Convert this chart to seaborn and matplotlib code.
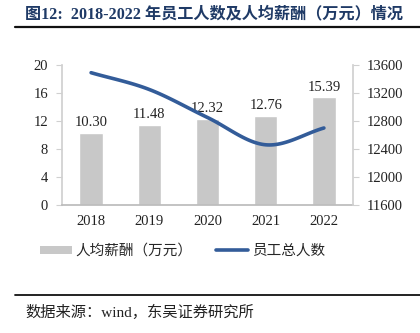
import numpy as np
import pandas as pd
import matplotlib
matplotlib.use("Agg")
import matplotlib.pyplot as plt
import seaborn as sns
from matplotlib.lines import Line2D
from matplotlib.patches import Patch

years = ["2018", "2019", "2020", "2021", "2022"]
salary = [10.30, 11.48, 12.32, 12.76, 15.39]          # 人均薪酬（万元）
headcount = [13490, 13250, 12850, 12460, 12700]       # 员工总人数
left_ticks = [0, 4, 8, 12, 16, 20]
right_ticks = [11600, 12000, 12400, 12800, 13200, 13600]

sns.set_theme(style="white")
CJK = ["Liberation Serif", "Noto Sans CJK SC"]
plt.rcParams["font.family"] = CJK

BAR = "#C8C8C8"
LINE = "#335C99"
SPINE = "#D0D0D0"

fig = plt.figure(figsize=(4.2, 3.33), dpi=100)
ax = fig.add_axes([62 / 420, 1 - 205 / 333, (353 - 62) / 420, 140 / 333])

df = pd.DataFrame({"year": years, "salary": salary})
sns.barplot(data=df, x="year", y="salary", color=BAR, width=0.4,
            saturation=1, ax=ax)
ax.set_ylim(0, 20)
ax.set_yticks(left_ticks)
ax.set_xlim(-0.5, len(years) - 0.5)
ax.set_xlabel("")
ax.set_ylabel("")
for i, v in enumerate(salary):
    ax.text(i, v + 0.5, f"{v:.2f}", ha="center", va="bottom",
            fontsize=10.5, color="#222222")

ax2 = ax.twinx()
# Smooth curve through the yearly points (Catmull-Rom style)
x = np.arange(len(years), dtype=float)
y = np.array(headcount, dtype=float)
px = np.concatenate([[2 * x[0] - x[1]], x, [2 * x[-1] - x[-2]]])
py = np.concatenate([[2 * y[0] - y[1]], y, [2 * y[-1] - y[-2]]])
xs, ys = [], []
t = np.linspace(0, 1, 30)
for k in range(1, len(px) - 2):
    p0, p1, p2, p3 = (np.array([px[j], py[j]]) for j in range(k - 1, k + 3))
    m1 = (p2 - p0) / 2
    m2 = (p3 - p1) / 2
    h00 = 2 * t**3 - 3 * t**2 + 1
    h10 = t**3 - 2 * t**2 + t
    h01 = -2 * t**3 + 3 * t**2
    h11 = t**3 - t**2
    seg = (np.outer(h00, p1) + np.outer(h10, m1)
           + np.outer(h01, p2) + np.outer(h11, m2))
    xs.append(seg[:, 0])
    ys.append(seg[:, 1])
curve = pd.DataFrame({"x": np.concatenate(xs), "y": np.concatenate(ys)})
sns.lineplot(data=curve, x="x", y="y", color=LINE, linewidth=2.6,
             sort=False, ax=ax2)
ax2.set_ylim(11600, 13600)
ax2.set_yticks(right_ticks)
ax2.set_xlim(-0.5, len(years) - 0.5)
ax2.set_xlabel("")
ax2.set_ylabel("")

for a in (ax, ax2):
    for s in a.spines.values():
        s.set_visible(False)
    a.tick_params(axis="both", labelsize=10.5, colors="#222222",
                  length=4, width=0.8)
    a.grid(False)
ax.spines["left"].set_visible(True)
ax.spines["left"].set_color(SPINE)
ax.spines["bottom"].set_visible(True)
ax.spines["bottom"].set_color("#BBBBBB")
ax2.spines["right"].set_visible(True)
ax2.spines["right"].set_color(SPINE)
ax.tick_params(axis="y", color=SPINE, pad=6)
ax.tick_params(axis="x", length=0, pad=7)
ax2.tick_params(axis="y", color=SPINE, pad=6)

handles = [Patch(facecolor=BAR, edgecolor="none"),
           Line2D([0], [0], color=LINE, linewidth=2.6)]
labels = ["人均薪酬（万元）", "员工总人数"]
fig.legend(handles, labels, loc="center left",
           bbox_to_anchor=(40 / 420, 1 - 251 / 333),
           ncol=2, frameon=False, handlelength=2.2,
           handleheight=0.45, columnspacing=1.6, handletextpad=0.25,
           borderaxespad=0, borderpad=0,
           prop={"family": CJK, "size": 10.5})

fig.text(25 / 420, 1 - 14 / 333, "图12:  2018-2022 年员工人数及人均薪酬（万元）情况",
         ha="left", va="center", fontsize=11.6, fontweight="bold",
         color="#1F3A66", family=CJK)
fig.add_artist(Line2D([15 / 420, 1], [1 - 27 / 333, 1 - 27 / 333],
                      color="#111111", linewidth=1.6))
fig.add_artist(Line2D([15 / 420, 1], [1 - 295 / 333, 1 - 295 / 333],
                      color="#111111", linewidth=1.3))
fig.text(25 / 420, 1 - 312 / 333, "数据来源：wind，东吴证券研究所",
         ha="left", va="center", fontsize=11, color="#222222", family=CJK)

fig.savefig("out.png", dpi=100)
